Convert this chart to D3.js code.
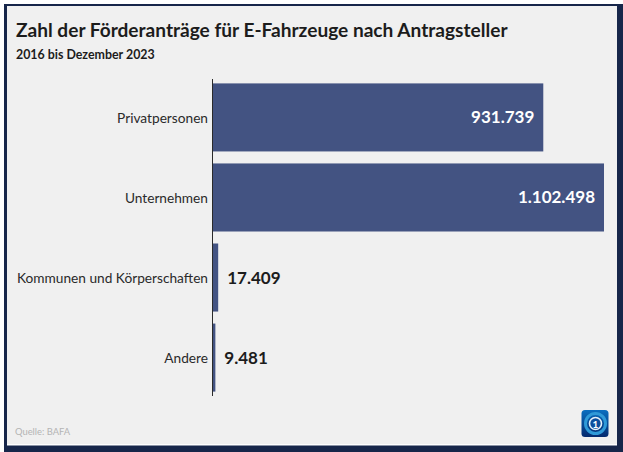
<!DOCTYPE html>
<html><head><meta charset="utf-8">
<script src="https://cdnjs.cloudflare.com/ajax/libs/d3/7.8.5/d3.min.js"></script>
<style>html,body{margin:0;padding:0;background:#fff}svg{display:block}text{font-family:"Lato",sans-serif}</style>
</head><body><svg id="c" width="623" height="452"></svg>
<script>
const categories=["Privatpersonen","Unternehmen","Kommunen und Körperschaften","Andere"];
const values=[931739,1102498,17409,9481];
const labels=["931.739","1.102.498","17.409","9.481"];
const title="Zahl der Förderanträge für E-Fahrzeuge nach Antragsteller";
const subtitle="2016 bis Dezember 2023";
const source="Quelle: BAFA";
const svg=d3.select("#c");
svg.append("rect").attr("x",4).attr("y",4).attr("width",619).attr("height",448).attr("fill","#17264a");
svg.append("rect").attr("x",7).attr("y",6).attr("width",610).attr("height",439).attr("fill","#f0f0f0");
svg.append("rect").attr("x",7).attr("y",444).attr("width",610).attr("height",1.5).attr("fill","#fff");
svg.append("text").attr("x",16).attr("y",37).attr("font-size",19.1).attr("font-weight",700).attr("fill","#1c1c1c").text(title);
svg.append("text").attr("x",16).attr("y",58.5).attr("font-size",12.4).attr("font-weight",700).attr("fill","#1c1c1c").text(subtitle);
const x=d3.scaleLinear().domain([0,1102498]).range([212,604]);
const y=d3.scaleBand().domain(categories).range([77,398]).paddingInner(0.15).paddingOuter(0.08);
svg.selectAll("rect.bar").data(categories).join("rect").attr("class","bar")
 .attr("x",x(0)).attr("y",d=>y(d)).attr("height",y.bandwidth())
 .attr("width",(d,i)=>x(values[i])-x(0)).attr("fill","#435382");
const axis=d3.axisLeft(y).tickSize(0).tickPadding(4);
const g=svg.append("g").attr("transform","translate(212,0)").call(axis);
g.select(".domain").attr("stroke","#2a2a2a").attr("stroke-width",1).attr("d","M0.5,79V396");
g.selectAll("text").attr("font-size",13.7).attr("fill","#2a2a2a").attr("font-family",'"Lato",sans-serif').attr("dy","0.42em");
svg.selectAll("text.val").data(categories).join("text").attr("class","val")
 .attr("y",d=>y(d)+y.bandwidth()/2+6).attr("font-size",17).attr("font-weight",700)
 .attr("x",(d,i)=>values[i]>100000?x(values[i])-9:x(values[i])+9)
 .attr("text-anchor",(d,i)=>values[i]>100000?"end":"start")
 .attr("fill",(d,i)=>values[i]>100000?"#fff":"#1c1c1c")
 .text((d,i)=>labels[i]);
svg.append("text").attr("x",15).attr("y",434.5).attr("font-size",9.4).attr("fill","#b4b4b4").text(source);
const defs=svg.append("defs");
const lg=defs.append("linearGradient").attr("id","lg").attr("x1",0).attr("y1",0).attr("x2",0).attr("y2",1);
lg.append("stop").attr("offset",0).attr("stop-color","#0b6fc0");
lg.append("stop").attr("offset",1).attr("stop-color","#04296e");
const l=svg.append("g").attr("transform","translate(581.5,410)");
l.append("rect").attr("width",27).attr("height",27).attr("rx",3.5).attr("fill","url(#lg)");
l.append("circle").attr("cx",14).attr("cy",13.5).attr("r",10).attr("fill","none").attr("stroke","#2f9ad8").attr("stroke-width",3);
l.append("circle").attr("cx",14).attr("cy",13.5).attr("r",6).attr("fill","#0d4f9e").attr("stroke","#e6f2fb").attr("stroke-width",1.6);
l.append("text").attr("x",14).attr("y",17.5).attr("text-anchor","middle").attr("font-size",10).attr("font-weight",700).attr("fill","#fff").text("1");
</script></body></html>
